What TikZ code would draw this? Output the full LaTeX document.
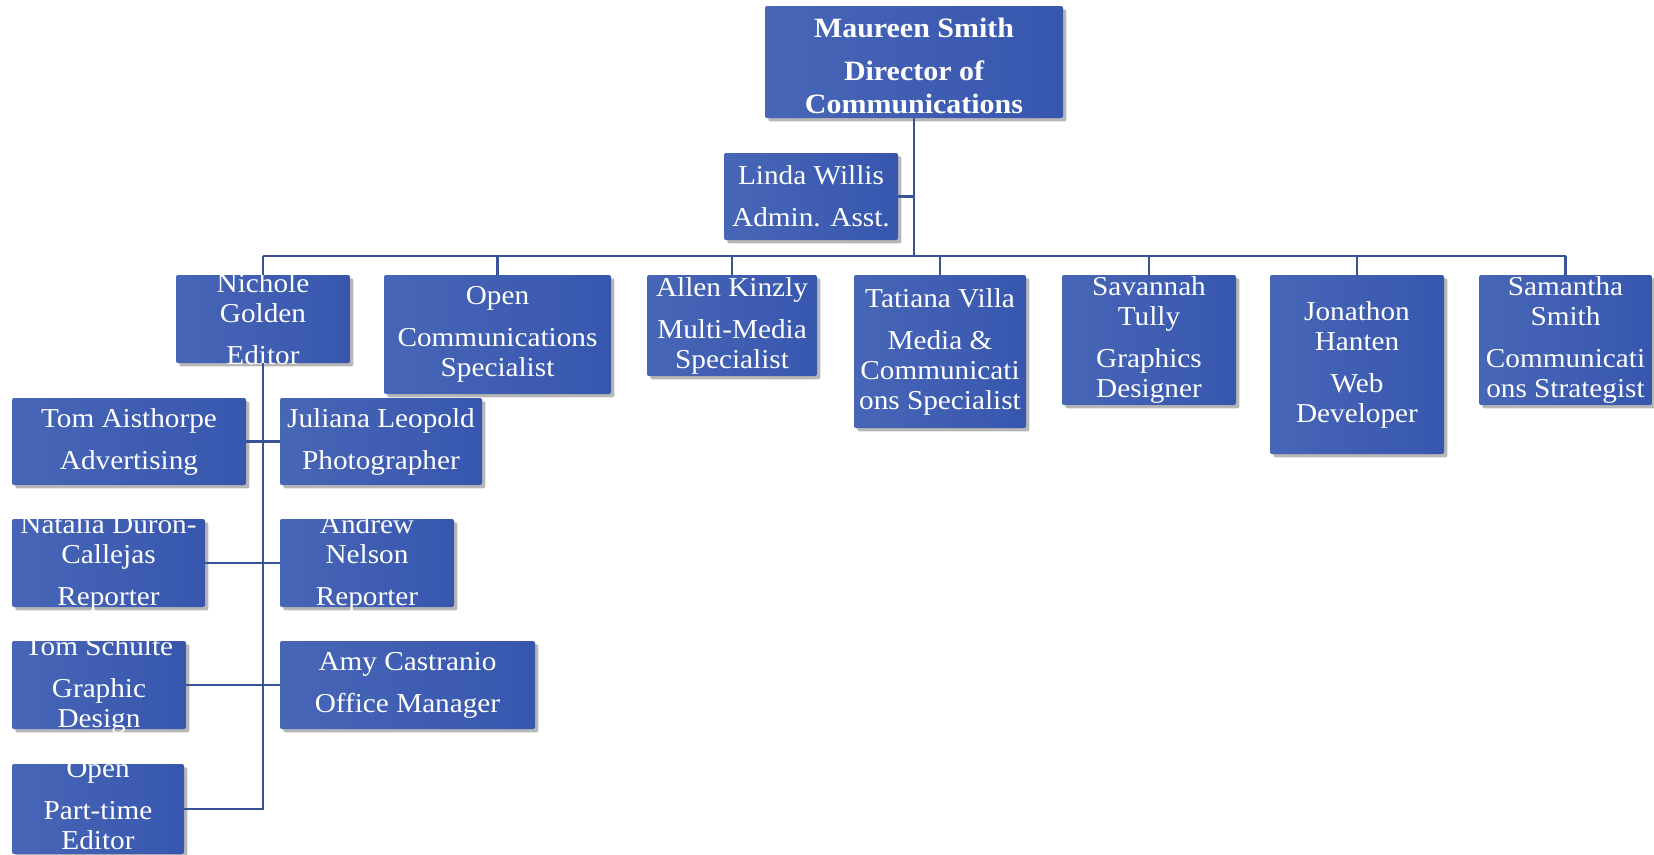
\documentclass[tikz,border=0pt]{standalone}
\usepackage{fontspec}
\setmainfont[FakeStretch=1.07]{Liberation Serif}
\usetikzlibrary{shadows}
\definecolor{boxL}{RGB}{72,102,182}
\definecolor{boxR}{RGB}{55,87,175}
\definecolor{lineC}{RGB}{58,82,150}
\tikzset{
 ocbox/.style={rectangle, inner sep=0pt, left color=boxL, right color=boxR, draw=none, rounded corners=1.5pt,
   drop shadow={shadow xshift=2.5pt, shadow yshift=-2.5pt, opacity=0.4, fill=black!70}},
 octext/.style={text=white, align=center, inner sep=0pt, font=\fontsize{20.5}{22.5}\selectfont},
 toptext/.style={octext, font=\fontsize{21}{25}\selectfont\bfseries},
 link/.style={draw=lineC, line width=1.7pt},
}
\newcommand{\ocb}[6]{%
 \node[ocbox, minimum width={(#4-#2)*0.75pt}, minimum height={(#5-#3)*0.75pt}] (#1) at ({(#2+#4)/2},{(#3+#5)/2}) {};
 \node[octext] (#1-t) at (#1.center) {#6};
}
\begin{document}
\begin{tikzpicture}[x=0.75pt,y=-0.75pt]
\useasboundingbox (0,0) rectangle (1654,854);
% boxes
\node[ocbox, minimum width={298*0.75pt}, minimum height={112*0.75pt}] (top) at (914,62) {};
\node[toptext] (top-t) at ([yshift=-3pt]top.center) {Maureen Smith\\[7.5pt]Director of\\Communications};
\ocb{linda}{724}{153}{898}{240}{Linda Willis\\[9pt]Admin. Asst.}
\ocb{nichole}{176}{275}{350}{363}{Nichole\\Golden\\[9pt]Editor}
\ocb{open}{384}{275}{611}{394}{Open\\[9pt]Communications\\Specialist}
\ocb{allen}{647}{275}{817}{376}{Allen Kinzly\\[9pt]Multi-Media\\Specialist}
\ocb{tatiana}{854}{275}{1026}{428}{Tatiana Villa\\[9pt]Media \&\\Communicati\\ons Specialist}
\ocb{savannah}{1062}{275}{1236}{405}{Savannah\\Tully\\[9pt]Graphics\\Designer}
\ocb{jonathon}{1270}{275}{1444}{454}{Jonathon\\Hanten\\[9pt]Web\\Developer}
\ocb{samantha}{1479}{275}{1652}{405}{Samantha\\Smith\\[9pt]Communicati\\ons Strategist}
\ocb{tomA}{12}{398}{246}{485}{Tom Aisthorpe\\[9pt]Advertising}
\ocb{juliana}{280}{398}{482}{485}{Juliana Leopold\\[9pt]Photographer}
\ocb{natalia}{12}{519}{205}{607}{Natalia Duron-\\Callejas\\[9pt]Reporter}
\ocb{andrew}{280}{519}{454}{607}{Andrew\\Nelson\\[9pt]Reporter}
\ocb{tomS}{12}{641}{186}{729}{Tom Schulte\\[9pt]Graphic\\Design}
\ocb{amy}{280}{641}{535}{729}{Amy Castranio\\[9pt]Office Manager}
\node[ocbox, minimum width={172*0.75pt}, minimum height={90*0.75pt}] (parttime) at (98,809) {};
\node[octext, anchor=south] (parttime-t) at ([yshift=3pt]parttime.south) {Open\\[9pt]Part-time\\Editor};
% connectors
\coordinate (bus) at (0,256);
\draw[link] (top.south) -- (top.south |- bus);
\draw[link] (linda.east) -- (linda.east -| top.south);
\draw[link] (nichole.north |- bus) -- (samantha.north |- bus);
\foreach \c in {nichole,open,allen,tatiana,savannah,jonathon,samantha}
  \draw[link] (\c.north) -- (\c.north |- bus);
\draw[link] (nichole.south) |- (parttime.east);
\draw[link] (tomA.east) -- (juliana.west);
\draw[link] (natalia.east) -- (andrew.west);
\draw[link] (tomS.east) -- (amy.west);
\end{tikzpicture}
\end{document}
